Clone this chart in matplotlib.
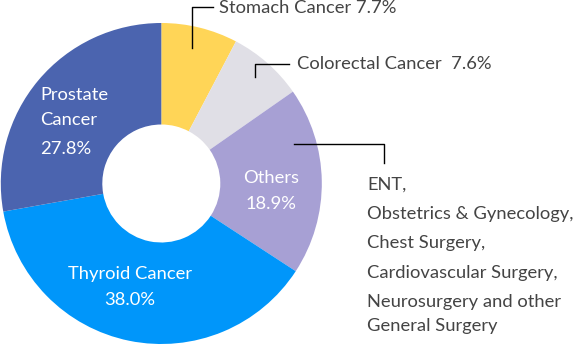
import matplotlib.pyplot as plt

plt.rcParams['font.family'] = ['Lato', 'DejaVu Sans']

# 데이터
categories = ['Stomach Cancer', 'Colorectal Cancer', 'Others', 'Thyroid Cancer', 'Prostate Cancer']
shares = [7.7, 7.6, 18.9, 38.0, 27.8]
colors = ['#FFD557', '#E0DFE6', '#A7A0D4', '#0096FA', '#4B64AF']
others_detail = ['ENT,', 'Obstetrics & Gynecology,', 'Chest Surgery,',
                 'Cardiovascular Surgery,', 'Neurosurgery and other', 'General Surgery']

W, H = 574, 345
fig = plt.figure(figsize=(W / 100, H / 100), dpi=100)
ax = fig.add_axes([0, 0, 1, 1])

cx, cy, r = 161.3, 183.5, 160.5
# y축이 뒤집혀 있으므로 counterclock=True 가 화면에서는 시계방향
ax.pie(shares, colors=colors, startangle=-90, counterclock=True,
       center=(cx, cy), radius=r, frame=True,
       wedgeprops=dict(width=r - 59, linewidth=0))
ax.set_xlim(0, W)
ax.set_ylim(H, 0)
ax.set_aspect('equal')
ax.axis('off')

fs = 13.2
txt = '#444444'

# 조각 안쪽 라벨
ax.text(40, 95, 'Prostate', color='white', fontsize=fs, va='center')
ax.text(40, 120, 'Cancer', color='white', fontsize=fs, va='center')
ax.text(40, 149, f'{shares[4]:.1f}%', color='white', fontsize=fs, va='center')
ax.text(130, 274, categories[3], color='white', fontsize=fs, va='center', ha='center')
ax.text(130, 300, f'{shares[3]:.1f}%', color='white', fontsize=fs, va='center', ha='center')
ax.text(271, 178, categories[2], color='white', fontsize=fs, va='center', ha='center')
ax.text(271, 204, f'{shares[2]:.1f}%', color='white', fontsize=fs, va='center', ha='center')

# 지시선 라벨
ax.plot([192, 192, 213], [48, 7, 7], color='black', lw=1)
ax.text(219, 8, f'{categories[0]} {shares[0]}%', color=txt, fontsize=fs, va='center')
ax.plot([255, 255, 289], [77, 64, 64], color='black', lw=1)
ax.text(297, 64, f'{categories[1]}  {shares[1]}%', color=txt, fontsize=fs, va='center')
ax.plot([294, 384, 384], [144, 144, 163], color='black', lw=1)

ys = [185, 214, 243, 273, 302, 326]
for y, s in zip(ys, others_detail):
    ax.text(367, y, s, color=txt, fontsize=fs, va='center')

fig.savefig('out.png', dpi=100)
